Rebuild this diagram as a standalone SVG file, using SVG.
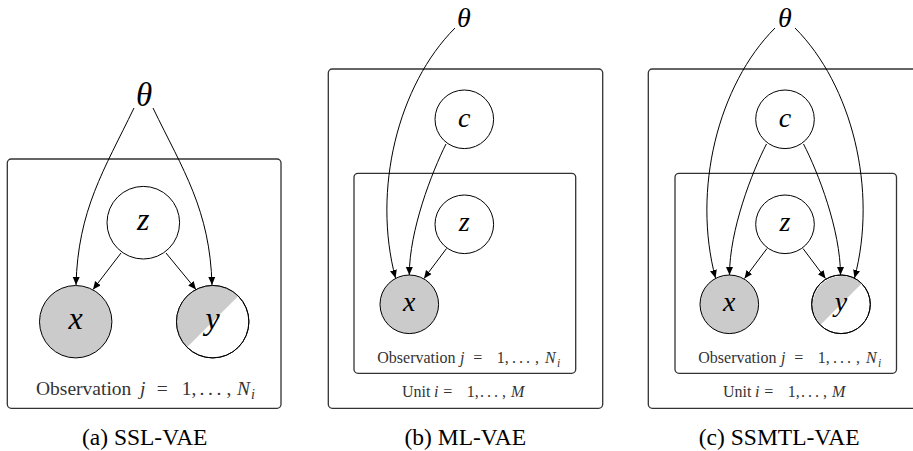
<svg xmlns="http://www.w3.org/2000/svg" width="913" height="451" viewBox="0 0 913 451">
<style>
text{font-family:'Liberation Serif','Times New Roman','Tinos','Nimbus Roman','Nimbus Roman No9 L','FreeSerif','Noto Serif','DejaVu Serif',serif}
.plate{fill:none;stroke:#333;stroke-width:1.3}
.node{fill:#fff;stroke:#000;stroke-width:1}
.obs{fill:#cbcbcb;stroke:#000;stroke-width:1}
.half{fill:#cbcbcb;stroke:none}
.ring{fill:none;stroke:#000;stroke-width:1}
.edge{fill:none;stroke:#000;stroke-width:1;marker-end:url(#arr)}
.math{font-style:italic;text-anchor:middle;fill:#000}
.lbl{fill:#333}
.it{font-style:italic}
.cap{text-anchor:middle;font-size:23.5px;fill:#000}
</style>
<defs>
<marker id="arr" markerUnits="userSpaceOnUse" markerWidth="9" markerHeight="8" refX="8" refY="3.5" orient="auto">
<path d="M0,0 L8,3.5 L0,7 Z" fill="#000"/>
</marker>
</defs>

<!-- Panel (a) -->
<g id="a-plate">
<rect class="plate" x="7.3" y="159" width="273.7" height="249.3" rx="4"/>
<text class="lbl" y="395" font-size="19.5"><tspan x="36">Observation</tspan><tspan class="it" x="140">j</tspan><tspan x="156.7">=</tspan><tspan x="181.7">1,</tspan><tspan x="199.5">.</tspan><tspan x="208">.</tspan><tspan x="216.5">.</tspan><tspan x="226.5">,</tspan><tspan class="it" x="237">N</tspan><tspan class="it" x="251" dy="4" font-size="14">i</tspan></text>
</g>
<g id="a-theta"><text class="math" x="144" y="106" font-size="33">θ</text></g>
<g id="a-z"><circle class="node" cx="143.3" cy="222.7" r="36.3"/><text class="math" x="143.3" y="230" font-size="32">z</text></g>
<g id="a-x"><circle class="obs" cx="75.7" cy="321.7" r="36.2"/><text class="math" x="75.7" y="329" font-size="32">x</text></g>
<g id="a-y"><circle class="node" cx="212.7" cy="321.7" r="36.2"/><path class="half" d="M238.3,296.1 A36.2,36.2 0 0 0 187.1,347.3 Z"/><circle class="ring" cx="212.7" cy="321.7" r="36.2"/><text class="math" x="212.7" y="329" font-size="32">y</text></g>
<g id="a-edges">
<path class="edge" d="M134,108 C104,170 78,210 76,285"/>
<path class="edge" d="M153,108 C183,170 210,210 212,285"/>
<path class="edge" d="M121,253 L93,289.5"/>
<path class="edge" d="M166,253 L196,289.5"/>
</g>
<g id="a-caption"><text class="cap" x="144.7" y="445">(a) SSL-VAE</text></g>

<!-- Panel (b) -->
<g id="b-unit">
<rect class="plate" x="328.3" y="69" width="274.4" height="339.3" rx="4"/>
<text class="lbl" y="396.7" font-size="16"><tspan x="402">Unit</tspan><tspan class="it" x="434">i</tspan><tspan x="443.3">=</tspan><tspan x="466.7">1,</tspan><tspan x="480">.</tspan><tspan x="487">.</tspan><tspan x="494">.</tspan><tspan x="502">,</tspan><tspan class="it" x="511">M</tspan></text>
</g>
<g id="b-obs">
<rect class="plate" x="354" y="173.3" width="221.7" height="200" rx="4"/>
<text class="lbl" y="363.3" font-size="16"><tspan x="377.3">Observation</tspan><tspan class="it" x="460">j</tspan><tspan x="473.3">=</tspan><tspan x="496.7">1,</tspan><tspan x="512">.</tspan><tspan x="519">.</tspan><tspan x="526">.</tspan><tspan x="535">,</tspan><tspan class="it" x="545">N</tspan><tspan class="it" x="557" dy="3.5" font-size="11.5">i</tspan></text>
</g>
<g id="b-theta"><text class="math" x="464" y="26.5" font-size="28">θ</text></g>
<g id="b-c"><circle class="node" cx="464.3" cy="119.3" r="29.3"/><text class="math" x="464.3" y="126.5" font-size="28">c</text></g>
<g id="b-z"><circle class="node" cx="464.3" cy="224.3" r="29.3"/><text class="math" x="464.3" y="230.5" font-size="28">z</text></g>
<g id="b-x"><circle class="obs" cx="409.3" cy="304.3" r="29.3"/><text class="math" x="409.3" y="310.5" font-size="28">x</text></g>
<g id="b-edges">
<path class="edge" d="M455,28 C398,85 372,190 395.5,278"/>
<path class="edge" d="M446,144 C432,172 409.3,230 409.3,275"/>
<path class="edge" d="M446.5,248.5 L424,278.5"/>
</g>
<g id="b-caption"><text class="cap" x="465.3" y="445">(b) ML-VAE</text></g>

<!-- Panel (c) -->
<g id="c-unit">
<rect class="plate" x="648.3" y="69" width="274.4" height="339.3" rx="4"/>
<text class="lbl" y="396.7" font-size="16"><tspan x="723">Unit</tspan><tspan class="it" x="755">i</tspan><tspan x="764.3">=</tspan><tspan x="787.7">1,</tspan><tspan x="801">.</tspan><tspan x="808">.</tspan><tspan x="815">.</tspan><tspan x="823">,</tspan><tspan class="it" x="832">M</tspan></text>
</g>
<g id="c-obs">
<rect class="plate" x="675" y="173.3" width="221.5" height="200" rx="4"/>
<text class="lbl" y="363.3" font-size="16"><tspan x="698.3">Observation</tspan><tspan class="it" x="781">j</tspan><tspan x="794.3">=</tspan><tspan x="817.7">1,</tspan><tspan x="833">.</tspan><tspan x="840">.</tspan><tspan x="847">.</tspan><tspan x="856">,</tspan><tspan class="it" x="866">N</tspan><tspan class="it" x="878" dy="3.5" font-size="11.5">i</tspan></text>
</g>
<g id="c-theta"><text class="math" x="785" y="26.5" font-size="28">θ</text></g>
<g id="c-c"><circle class="node" cx="785" cy="119.3" r="29.3"/><text class="math" x="785" y="126.5" font-size="28">c</text></g>
<g id="c-z"><circle class="node" cx="785" cy="224.3" r="29.3"/><text class="math" x="785" y="230.5" font-size="28">z</text></g>
<g id="c-x"><circle class="obs" cx="729.3" cy="304.3" r="29.3"/><text class="math" x="729.3" y="310.5" font-size="28">x</text></g>
<g id="c-y"><circle class="node" cx="841" cy="304.3" r="29.3"/><path class="half" d="M861.7,283.6 A29.3,29.3 0 0 0 820.3,325 Z"/><circle class="ring" cx="841" cy="304.3" r="29.3"/><text class="math" x="841" y="310.5" font-size="28">y</text></g>
<g id="c-edges">
<path class="edge" d="M775,28 C718,85 692,190 715.5,278"/>
<path class="edge" d="M795,28 C852,85 878,190 854.5,278"/>
<path class="edge" d="M766.5,144 C752,172 729.5,230 729.5,275"/>
<path class="edge" d="M803.5,144 C818,172 840.5,230 840.5,275"/>
<path class="edge" d="M767,248.5 L744.5,278.5"/>
<path class="edge" d="M803,248.5 L825.5,278.5"/>
</g>
<g id="c-caption"><text class="cap" x="779.2" y="445">(c) SSMTL-VAE</text></g>
</svg>
